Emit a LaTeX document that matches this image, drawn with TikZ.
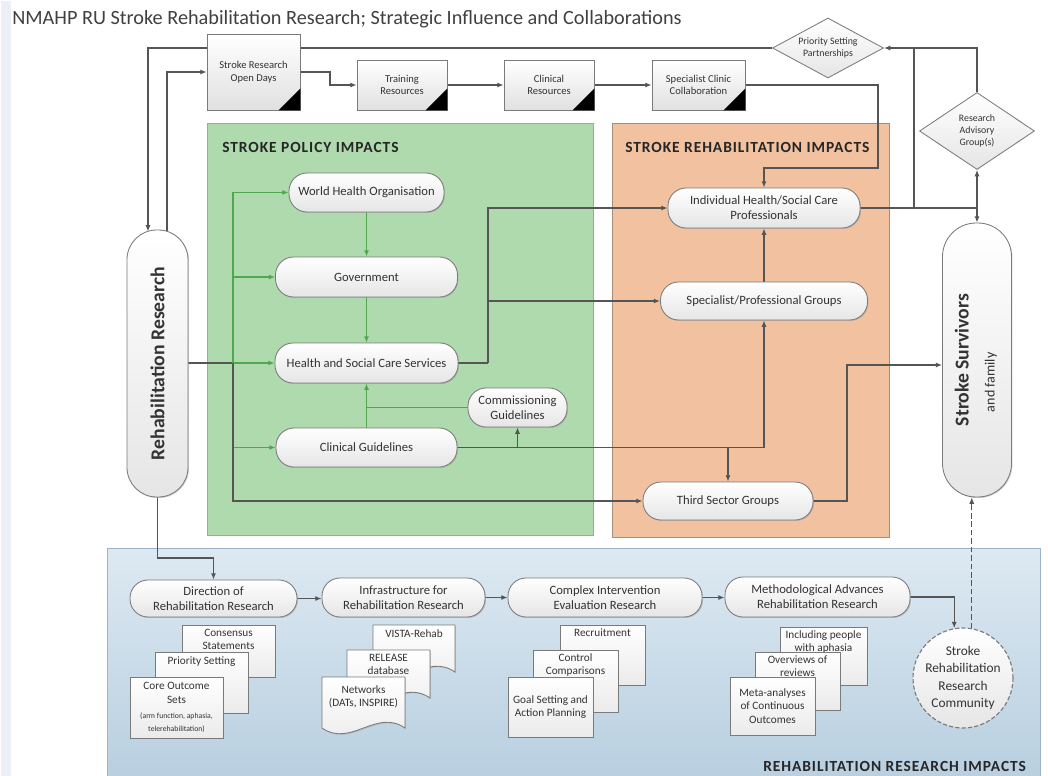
\documentclass[tikz,border=0pt]{standalone}
\usepackage{fontspec}
\setmainfont{Carlito}
\newfontfamily\hdfont[LetterSpace=6]{Carlito}
\usepackage{graphicx}
\usetikzlibrary{arrows.meta,shapes.geometric,shadows}
\pgfdeclarelayer{back}
\pgfdeclarelayer{wires}
\pgfsetlayers{back,wires,main}
\definecolor{wirecol}{HTML}{555555}
\definecolor{gwirecol}{HTML}{4FA84F}
\definecolor{edgecol}{HTML}{7A7A7A}
\definecolor{greenbg}{HTML}{AEDAAE}
\definecolor{greenedge}{HTML}{8CB58C}
\definecolor{orangebg}{HTML}{F2C2A0}
\definecolor{orangeedge}{HTML}{A88C7C}
\definecolor{bluetop}{HTML}{DDE9F2}
\definecolor{bluebot}{HTML}{B8CFE0}
\definecolor{blueedge}{HTML}{9DB2C4}
\definecolor{stripcol}{HTML}{ECEFF5}
\definecolor{txt}{HTML}{333333}
\newcommand\fsz[2]{\fontsize{#1}{#2}\selectfont}
\begin{document}
\begin{tikzpicture}[x=0.025cm, y=-0.025cm,
  sz/.style 2 args={minimum width=#1*0.025cm, minimum height=#2*0.025cm},
  shadowed/.style={drop shadow={fill=black!40, opacity=0.45, shadow xshift=0.7pt, shadow yshift=-0.7pt}},
  pill/.style={draw=edgecol, line width=0.6pt, top color=white, bottom color=black!10, rounded corners=0.45cm, inner sep=0pt, align=center, text=txt, font=\fsz{9}{10.5}, shadowed},
  vpill/.style={pill},
  topbox/.style={draw=edgecol, line width=0.6pt, top color=white, bottom color=black!12, inner sep=0pt, align=center, text=txt, font=\fsz{7.5}{9}, shadowed},
  docbox/.style={draw=edgecol, line width=0.6pt, top color=white, bottom color=black!8, inner sep=0pt, align=center, text=txt, font=\fsz{8}{9.5}, shadowed},
  docshape/.style={draw=edgecol, line width=0.6pt, top color=white, bottom color=black!8, shadowed},
  doctext/.style={inner sep=0pt, align=center, text=txt, font=\fsz{8}{9.5}},
  dia/.style={diamond, draw=edgecol, line width=0.6pt, top color=white, bottom color=black!10, inner sep=0pt, align=center, text=txt, font=\fsz{7}{8.5}},
  region/.style={inner sep=0pt, line width=0.8pt},
  hdr/.style={inner sep=0pt, anchor=west, text=black!85, font=\hdfont\fsz{11}{13}\bfseries},
  wire/.style={draw=wirecol, line width=0.8pt},
  conn/.style={wire, -{Latex[length=4.5pt,width=3.6pt]}},
  gwire/.style={draw=gwirecol, line width=0.8pt},
  gconn/.style={gwire, -{Latex[length=4.5pt,width=3.6pt]}},
]
\useasboundingbox (0,0) rectangle (1048,776);
\begin{pgfonlayer}{back}
\fill[white] (0,0) rectangle (1048,776);
\node[region, fill=stripcol, sz={10}{776}, anchor=north west] (strip) at (0,0) {};
\node[region, draw=greenedge, fill=greenbg, sz={386}{412}, anchor=north west] (policy) at (207,123) {};
\node[region, draw=orangeedge, fill=orangebg, sz={277}{414}, anchor=north west] (rehab) at (612,123) {};
\node[region, draw=blueedge, top color=bluetop, bottom color=bluebot, sz={933}{230}, anchor=north west] (resarea) at (107,548) {};
\end{pgfonlayer}

% title and headers
\node[anchor=west, inner sep=0pt, text=black!75, font=\fsz{14.4}{16}] (title) at (12,19) {NMAHP RU Stroke Rehabilitation Research; Strategic Influence and Collaborations};
\node[hdr] (hpol) at (222,147) {STROKE POLICY IMPACTS};
\node[hdr] (hreh) at (625,147) {STROKE REHABILITATION IMPACTS};
\node[hdr] (hres) at (763,766) {REHABILITATION RESEARCH IMPACTS};

% top row
\node[topbox, sz={93}{76}] (od) at (253.5,72) {Stroke Research\\Open Days};
\node[topbox, sz={90}{50}] (tr) at (402,85) {Training\\Resources};
\node[topbox, sz={90}{50}] (cr) at (549,85) {Clinical\\Resources};
\node[topbox, sz={93}{50}] (sc) at (698.5,85) {Specialist Clinic\\Collaboration};
\foreach \n in {od,tr,cr,sc} \fill[black] (\n.south east) -- ++(0,-22) -- ++(-22,22) -- cycle;

% diamonds
\node[dia, aspect=1.85, sz={111}{60}] (psp) at (828,48) {Priority Setting\\Partnerships};
\node[dia, aspect=1.5, sz={115}{77}] (rag) at (977,131) {Research\\Advisory\\Group(s)};

% side capsules
\node[vpill, rounded corners=0.74cm, sz={61}{267}] (rr) at (157.5,363.5) {\rotatebox{90}{\fsz{14}{16}\bfseries Rehabilitation Research}};
\node[vpill, rounded corners=0.84cm, sz={69}{274}] (ss) at (977,360) {\rotatebox{90}{\begin{tabular}{@{}l@{}}\fsz{14}{16}\bfseries Stroke Survivors\\[8pt]\hspace{10pt}\fsz{10}{12}and family\end{tabular}}};

% policy impacts
\node[pill, sz={155}{39}] (who) at (366.5,192.5) {World Health Organisation};
\node[pill, sz={182}{40}] (gov) at (366.5,277) {Government};
\node[pill, sz={183}{40}] (hscs) at (366.5,363) {Health and Social Care Services};
\node[pill, sz={99}{39}] (comm) at (517.5,407.5) {Commissioning\\Guidelines};
\node[pill, sz={181}{39}] (cg) at (366.5,447.5) {Clinical Guidelines};

% rehabilitation impacts
\node[pill, sz={192}{40}] (ihscp) at (764,208) {Individual Health/Social Care\\Professionals};
\node[pill, sz={207}{38}] (spg) at (764,301) {Specialist/Professional Groups};
\node[pill, sz={170}{38}] (tsg) at (728,501) {Third Sector Groups};

% research impacts
\node[pill, sz={167}{37}] (dir) at (213.5,598.5) {Direction of\\Rehabilitation Research};
\node[pill, sz={163}{39}] (inf) at (403.5,597.5) {Infrastructure for\\Rehabilitation Research};
\node[pill, sz={194}{39}] (cie) at (605,597.5) {Complex Intervention\\Evaluation Research};
\node[pill, sz={185}{40}] (mar) at (817.5,597) {Methodological Advances\\Rehabilitation Research};
\node[circle, draw=edgecol, dash pattern=on 3pt off 1.5pt, line width=0.8pt, top color=white, bottom color=black!10, minimum size=100*0.025cm, inner sep=0pt, align=center, text=txt, font=\fsz{9.5}{12.5}] (srrc) at (963,678) {Stroke\\Rehabilitation\\Research\\Community};

% direction stack
\node[docbox, sz={93}{52}] (cons) at (228.5,651) {};
\node[doctext, anchor=north] (constx) at (228.5,629) {Consensus\\Statements};
\node[docbox, sz={93}{61}] (prio) at (201.5,682.5) {};
\node[doctext, anchor=north] (priotx) at (201.5,656) {Priority Setting};
\node[docbox, sz={93}{61}] (core) at (176.5,707.5) {Core Outcome\\Sets\\[1pt]\fsz{5.5}{7}(arm function, aphasia,\\\fsz{5.5}{7}telerehabilitation)};

% infrastructure documents
\path[docshape] (373,625) -- (455,625) -- (455,672) .. controls (426,652) and (402,692) .. (373,672) -- cycle;
\node[doctext, anchor=north] (vistatx) at (414,629) {VISTA-Rehab};
\path[docshape] (347,650) -- (430,650) -- (430,698) .. controls (401,678) and (376,718) .. (347,698) -- cycle;
\node[doctext, anchor=north] (reltx) at (388.5,654) {RELEASE\\database};
\path[docshape] (322,677) -- (405,677) -- (405,728) .. controls (376,708) and (351,748) .. (322,728) -- cycle;
\node[doctext, anchor=north] (nettx) at (363.5,685) {Networks\\(DATs, INSPIRE)};

% complex stack
\node[docbox, sz={85}{60}] (recr) at (602.5,655) {};
\node[doctext, anchor=north] (recrtx) at (602.5,628) {Recruitment};
\node[docbox, sz={85}{62}] (ctrl) at (575.5,681) {};
\node[doctext, anchor=north] (ctrltx) at (575.5,653) {Control\\Comparisons};
\node[docbox, sz={85}{60}] (goal) at (550.5,707) {Goal Setting and\\Action Planning};

% methodological stack
\node[docbox, sz={87}{58}] (incl) at (823.5,656) {};
\node[doctext, anchor=north] (incltx) at (823.5,630) {Including people\\with aphasia};
\node[docbox, sz={85}{58}] (over) at (797.5,681) {};
\node[doctext, anchor=north] (overtx) at (797.5,655) {Overviews of\\reviews};
\node[docbox, sz={85}{58}] (meta) at (772.5,706) {Meta-analyses\\of Continuous\\Outcomes};

\begin{pgfonlayer}{wires}
\coordinate (rrtl) at (148,231.5);
\coordinate (rrtr) at (167,231.5);
\draw[conn] (psp.west) -| (rrtl);
\draw[conn] (rrtr) |- (od.west);
\draw[conn] (od.east) -- (330,72) |- (tr.west);
\draw[conn] (tr.east) -- (cr.west);
\draw[conn] (cr.east) -- (sc.west);
\draw[conn] (sc.east) -| (878,168) -| (ihscp.north);
\coordinate (jr) at (977,208);
\draw[wire] (ihscp.east) -- (jr);
\draw[conn] (jr) -- (ss.north);
\draw[conn] (jr) -- (rag.south);
\coordinate (jt) at (914,208);
\draw[wire] (jt) -- (914,48);
\draw[conn] (rag.north) |- (psp.east);
\coordinate (jl) at (233,363);
\draw[wire] (rr.east |- hscs.west) -- (jl);
\draw[gconn] (jl) -- (hscs.west);
\draw[gconn] (jl) |- (who.west);
\draw[gconn] (jl) |- (gov.west);
\draw[gconn] (jl) |- (cg.west);
\draw[conn] (jl) |- (tsg.west);
\draw[gconn] (who.south) -- (gov.north);
\draw[gconn] (gov.south) -- (hscs.north);
\draw[gconn] (cg.north) -- (hscs.south);
\draw[gwire] (comm.west) -- (comm.west -| cg.north);
\coordinate (jh) at (488,363);
\draw[wire] (hscs.east) -- (jh);
\draw[conn] (jh) |- (ihscp.west);
\draw[conn] (jh) |- (spg.west);
\draw[conn] (cg.east) -| (spg.south);
\draw[conn] (cg.east -| comm.south) -- (comm.south);
\draw[conn] (cg.east -| tsg.north) -- (tsg.north);
\draw[conn] (spg.north) -- (ihscp.south);
\coordinate (k365) at (847,365);
\draw[conn] (tsg.east) -| (k365) -- (k365 -| ss.west);
\draw[conn] (rr.south) -- (157.5,558) -| (dir.north);
\draw[conn] (dir.east) -- (dir.east -| inf.west);
\draw[conn] (inf.east) -- (inf.east -| cie.west);
\draw[conn] (cie.east) -- (cie.east -| mar.west);
\draw[conn] (mar.east) -| (srrc.100);
\draw[conn, dash pattern=on 4pt off 2pt] (srrc.80) -- (srrc.80 |- ss.south);
\end{pgfonlayer}
\end{tikzpicture}
\end{document}
